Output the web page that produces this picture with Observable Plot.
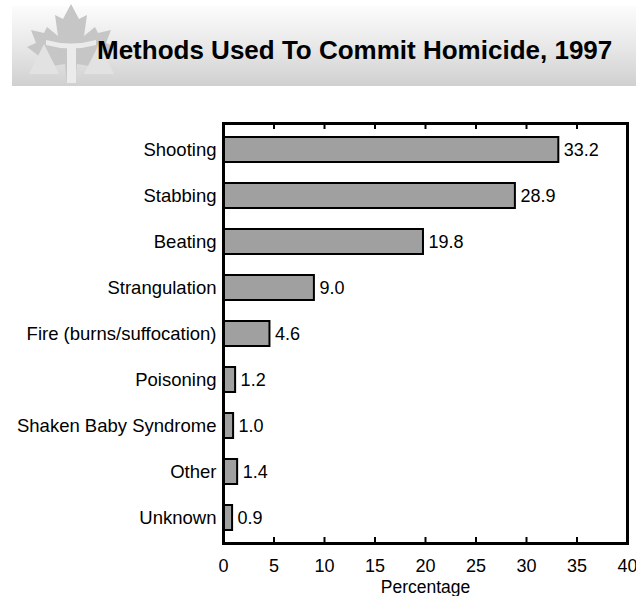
<!DOCTYPE html>
<html>
<head>
<meta charset="utf-8">
<script src="https://cdn.jsdelivr.net/npm/d3@7"></script>
<script src="https://cdn.jsdelivr.net/npm/@observablehq/plot@0.6"></script>
<style>
  html, body { margin: 0; padding: 0; background: #fff; }
  body { width: 636px; height: 596px; position: relative; overflow: hidden; font-family: "Liberation Sans", Arial, sans-serif; }
  #banner { position: absolute; left: 12px; top: 6px; width: 624px; height: 80px;
            background: linear-gradient(to bottom, #fcfcfc 0%, #e8e8e8 50%, #d0d0d0 100%); }
  #logo { position: absolute; left: 0; top: 0; }
  #title { position: absolute; left: 97px; top: 35px; font-weight: bold; font-size: 26px; color: #000; white-space: nowrap; }
  #chart { position: absolute; left: 0; top: 0; }
</style>
</head>
<body>
<div id="banner"></div>
<svg id="logo" width="140" height="96" viewBox="0 0 140 96">
  <polygon fill="#c6c6c6" points="71,4 63,19 55,15 58,36 47,27 44,33 31,30 36,43 27,47 44,60 40,68 65,64 67,83 75,83 77,64 102,68 98,60 115,47 106,43 111,30 98,33 95,27 84,36 87,15 79,19"/>
  <polygon fill="#e2e2e2" points="29,74 44,44 59,74"/>
  <polygon fill="#e2e2e2" points="84,74 99,44 114,74"/>
  <path fill="#ebebeb" d="M46,40 Q71,47 96,40 L96,45 Q71,52 46,45 Z"/>
  <rect fill="#ebebeb" x="67" y="48" width="9" height="35"/>
</svg>
<div id="title">Methods Used To Commit Homicide, 1997</div>
<div id="chart"></div>
<script>
const methods = ["Shooting", "Stabbing", "Beating", "Strangulation", "Fire (burns/suffocation)", "Poisoning", "Shaken Baby Syndrome", "Other", "Unknown"];
const percents = [33.2, 28.9, 19.8, 9.0, 4.6, 1.2, 1.0, 1.4, 0.9];
const xTicks = [0, 5, 10, 15, 20, 25, 30, 35, 40];
const innerTicks = xTicks.slice(1, -1);

const data = methods.map((m, i) => ({method: m, pct: percents[i]}));

const chart = Plot.plot({
  width: 636,
  height: 596,
  marginTop: 123,
  marginBottom: 53,
  marginLeft: 223,
  marginRight: 9,
  style: { fontFamily: "Liberation Sans, Arial, sans-serif", fontSize: "18.5px", color: "#000", background: "transparent", overflow: "visible" },
  x: { domain: [0, 40], ticks: xTicks, label: null },
  y: { domain: methods, paddingInner: 0.46, paddingOuter: 0.23, label: null },
  marks: [
    Plot.barX(data, { x: "pct", y: "method", fill: "#a0a0a0", stroke: "#000", strokeWidth: 2 }),
    Plot.text(data, { x: "pct", y: "method", text: d => d.pct.toFixed(1), textAnchor: "start", dx: 5, fontSize: 18, fill: "#000" }),
    Plot.ruleX(innerTicks, { stroke: "#000", strokeWidth: 2, insetBottom: 414 }),
    Plot.ruleX(innerTicks, { stroke: "#000", strokeWidth: 2, insetTop: 414 }),
    Plot.frame({ stroke: "#000", strokeWidth: 3 }),
    Plot.axisX({ ticks: xTicks, tickSize: 0, tickPadding: 16, fontSize: 18, label: null }),
    Plot.axisY({ tickSize: 0, tickPadding: 7, fontSize: 18.5, label: null }),
    Plot.text(["Percentage"], { frameAnchor: "bottom", dy: 49, fontSize: 17.5, fill: "#000" })
  ]
});
document.getElementById("chart").appendChild(chart);
</script>
</body>
</html>
